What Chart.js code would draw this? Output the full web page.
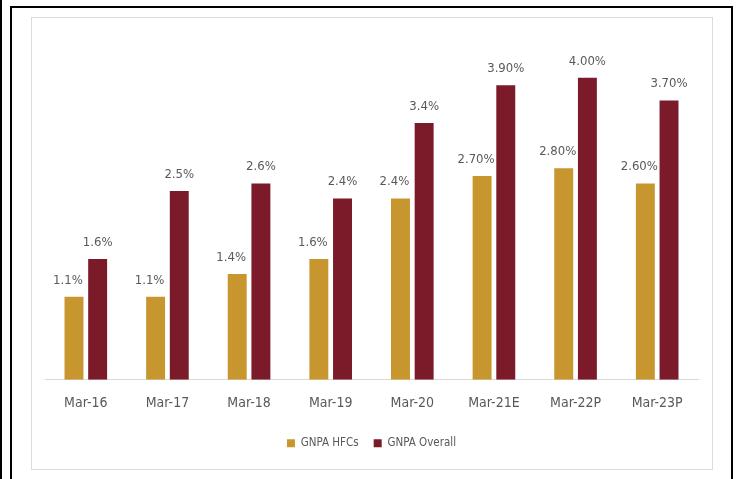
<!DOCTYPE html>
<html>
<head>
<meta charset="utf-8">
<script src="https://cdn.jsdelivr.net/npm/chart.js@4"></script>
<style>
  body { margin: 0; background: #fff; width: 739px; height: 479px; overflow: hidden; position: relative; }
  .edge { position: absolute; left: 0; top: 0; width: 2px; height: 479px; background: #000; }
  .frame { position: absolute; left: 10px; top: 6px; width: 719px; height: 480px;
           border: 2px solid #000; border-bottom: none; }
  .box { position: absolute; left: 31px; top: 17px; width: 680px; height: 451px;
         border: 1px solid #dcdcdc; }
  .wrap { position: absolute; left: 0; top: 0; width: 680px; height: 451px; }
</style>
</head>
<body>
<div class="edge"></div>
<div class="frame"></div>
<div class="box">
  <div class="wrap"><canvas id="gnpaChart"></canvas></div>
</div>
<script>
// Données
const categories = ['Mar-16', 'Mar-17', 'Mar-18', 'Mar-19', 'Mar-20', 'Mar-21E', 'Mar-22P', 'Mar-23P'];
const hfcValues = [1.1, 1.1, 1.4, 1.6, 2.4, 2.7, 2.8, 2.6];
const overallValues = [1.6, 2.5, 2.6, 2.4, 3.4, 3.9, 4.0, 3.7];
const hfcLabels = ['1.1%', '1.1%', '1.4%', '1.6%', '2.4%', '2.70%', '2.80%', '2.60%'];
const overallLabels = ['1.6%', '2.5%', '2.6%', '2.4%', '3.4%', '3.90%', '4.00%', '3.70%'];

const FONT = "'Liberation Sans Narrow', 'DejaVu Sans Condensed', 'Liberation Sans', sans-serif";
const TEXT_GREY = '#595959';

// Étiquettes de valeur au-dessus des barres
const valueLabels = {
    id: 'valueLabels',
    afterDatasetsDraw(chart) {
        const ctx = chart.ctx;
        ctx.save();
        ctx.font = '13px ' + FONT;
        ctx.fillStyle = TEXT_GREY;
        ctx.textAlign = 'center';
        ctx.textBaseline = 'bottom';
        chart.data.datasets.forEach((ds, i) => {
            const meta = chart.getDatasetMeta(i);
            const shift = ds.labelShift || 0;
            meta.data.forEach((bar, j) => {
                ctx.fillText(ds.valueText[j], bar.x + shift, bar.y - 10);
            });
        });
        ctx.restore();
    }
};

const ctx = document.getElementById('gnpaChart').getContext('2d');
new Chart(ctx, {
    type: 'bar',
    data: {
        labels: categories,
        datasets: [
            {
                label: 'GNPA HFCs',
                data: hfcValues,
                valueText: hfcLabels,
                labelShift: -6,
                backgroundColor: '#C8962E',
                categoryPercentage: 0.58,
                barPercentage: 0.8,
            },
            {
                label: 'GNPA Overall',
                data: overallValues,
                valueText: overallLabels,
                backgroundColor: '#7B1A28',
                categoryPercentage: 0.58,
                barPercentage: 0.8,
            },
        ],
    },
    options: {
        responsive: true,
        maintainAspectRatio: false,
        animation: false,
        layout: { padding: { top: 22, left: 13, right: 14, bottom: 10 } },
        scales: {
            x: {
                grid: { display: false, drawTicks: false },
                border: { display: true, color: '#d9d9d9', width: 1 },
                ticks: { color: TEXT_GREY, font: { family: FONT, size: 14 }, padding: 15 },
                // l'axe descend plus près de la légende
                afterFit: (scale) => { scale.height -= 4; },
            },
            y: {
                display: false,
                min: 0,
                max: 4.5,
            },
        },
        plugins: {
            legend: {
                position: 'bottom',
                labels: {
                    color: TEXT_GREY,
                    font: { family: FONT, size: 11.5 },
                    boxWidth: 8,
                    boxHeight: 8,
                    padding: 15,
                },
            },
            tooltip: { enabled: false },
        },
    },
    plugins: [valueLabels],
});
</script>
</body>
</html>
